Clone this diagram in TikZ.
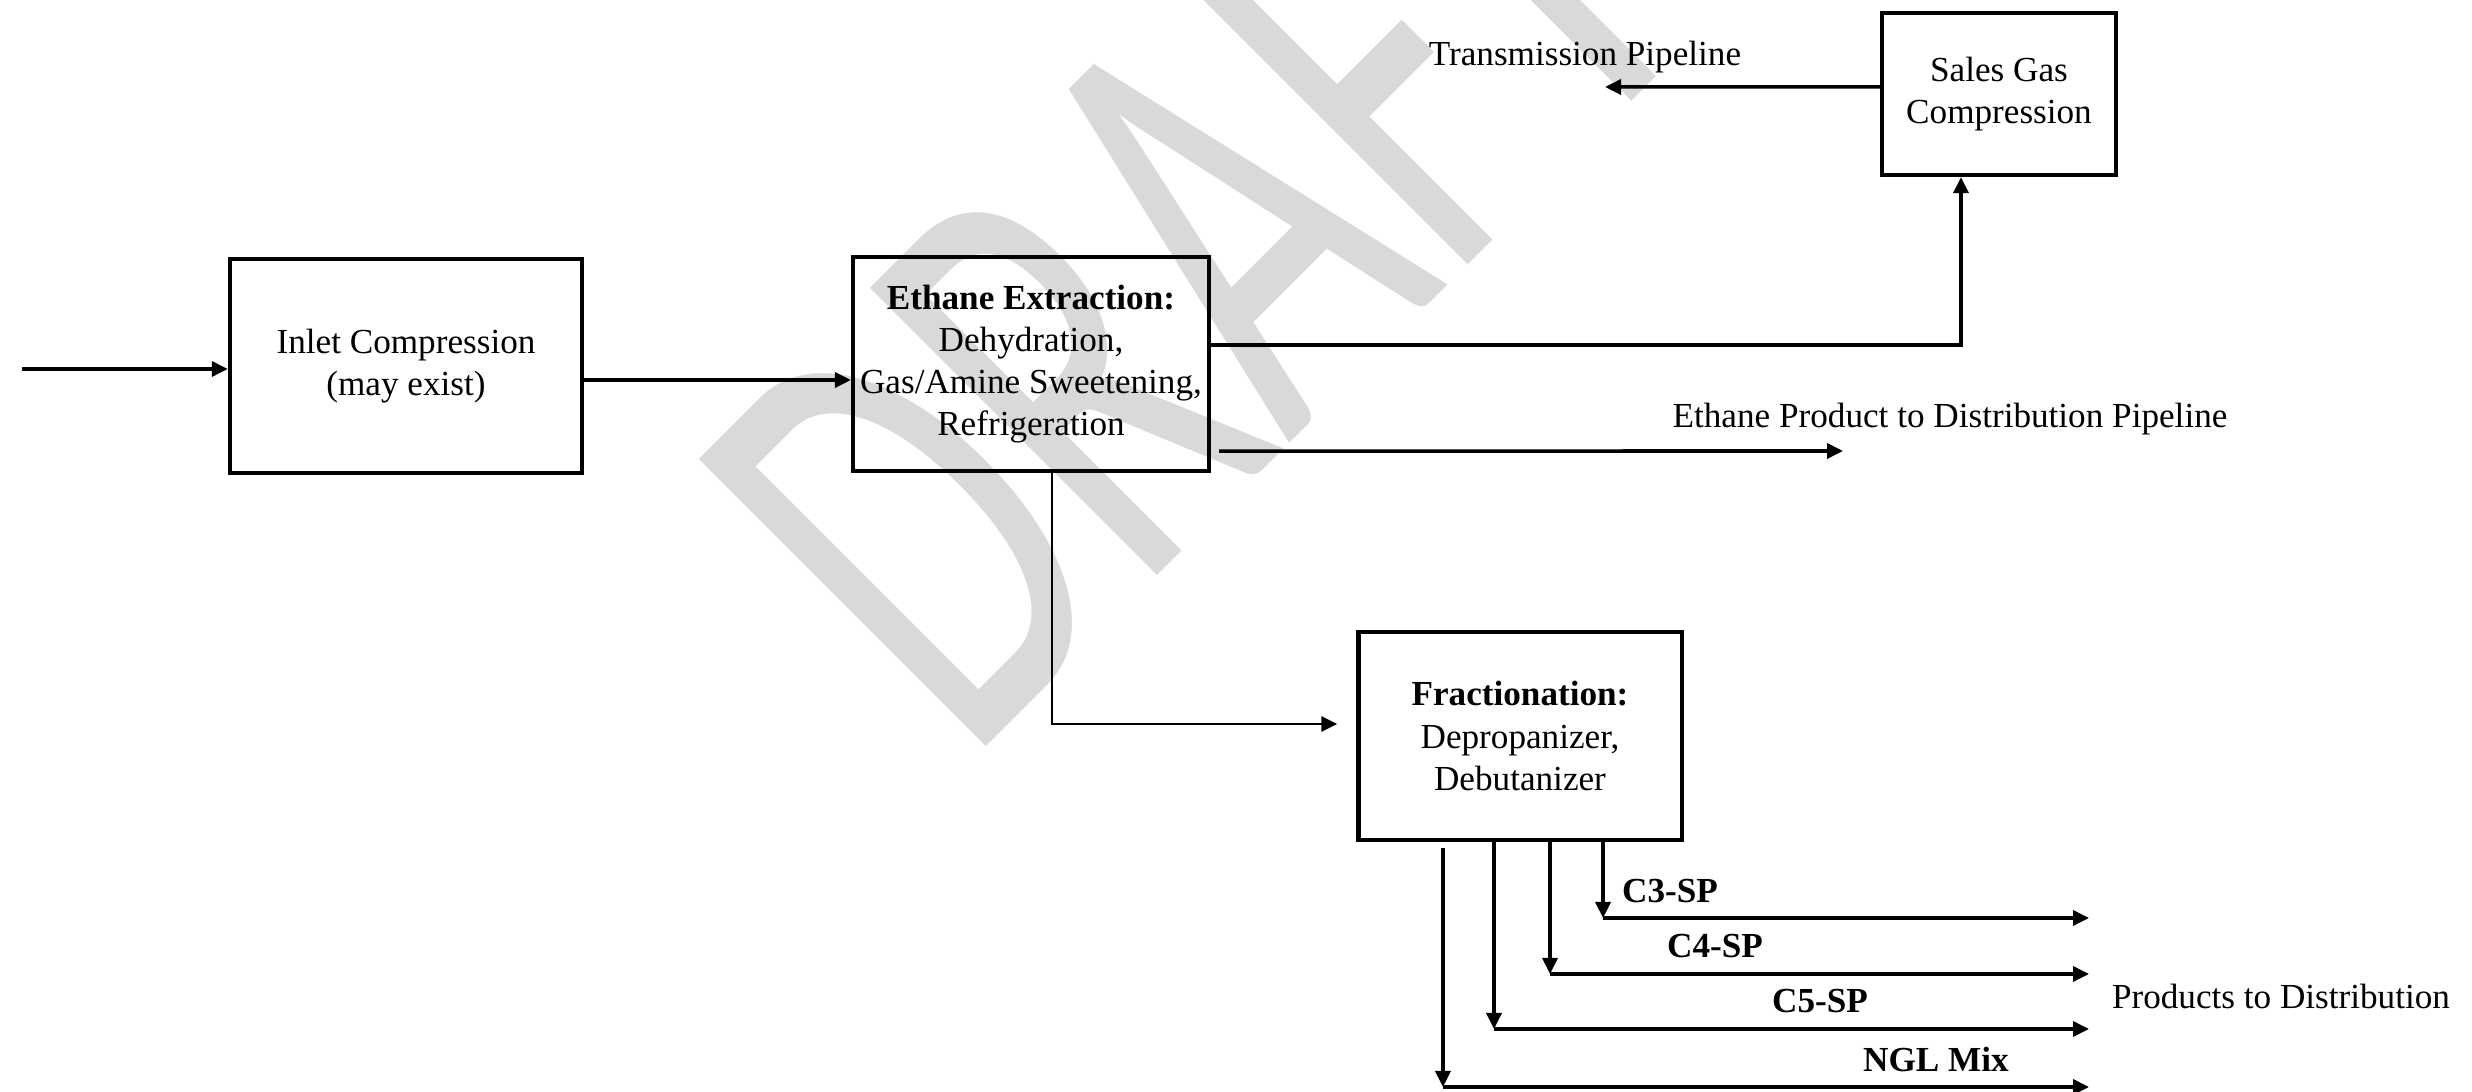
\documentclass[tikz,border=0pt]{standalone}
\usepackage{fontspec}
\setmainfont{Liberation Serif}
\newfontfamily\draftfont{Carlito}
\usetikzlibrary{arrows.meta, positioning, calc}
\definecolor{draftgrey}{RGB}{217,217,217}

\begin{document}
\begin{tikzpicture}[x=0.01cm, y=-0.01cm,
    block/.style={draw, line width=1.2pt, align=center, inner sep=2pt},
    flow/.style={line width=1pt, -{Triangle[length=1.6mm, width=1.5mm]}},
    tag/.style={font=\bfseries, inner sep=0pt},
    plain/.style={inner sep=0pt}]
    \useasboundingbox (0,0) rectangle (2472,1092);
    \clip (0,0) rectangle (2472,1092);

    % watermark
    \node[draftgrey, font=\draftfont\fontsize{180}{180}\selectfont, rotate=45, xscale=0.62, anchor=base west, inner sep=0pt] (draft) at (967,766) {DRAFT};

    \node[block, minimum width=3.52cm, minimum height=2.14cm] (inlet) at (406,366) {Inlet Compression\\(may exist)};
    \node[block, minimum width=3.50cm, minimum height=2.14cm] (ethane) at (1031,364) {\textbf{Ethane Extraction:}\\Dehydration,\\Gas/Amine Sweetening,\\Refrigeration};
    \node[block, minimum width=2.34cm, minimum height=1.62cm] (sales) at (1999,94) {Sales Gas\\Compression};
    \node[block, minimum width=3.23cm, minimum height=2.08cm] (frac) at (1520,736) {\textbf{Fractionation:}\\Depropanizer,\\Debutanizer};

    \coordinate (feed) at (22,369);
    \coordinate (pipeline) at (1605,87);
    \coordinate (ethprod) at (1843,451);
    \coordinate (c3end) at (2089,918);
    \coordinate (c4end) at (2089,974);
    \coordinate (c5end) at (2089,1029);
    \coordinate (nglend) at (2089,1087);
    \coordinate (c3top) at ([xshift=0.83cm]frac.south);
    \coordinate (c4top) at ([xshift=0.30cm]frac.south);
    \coordinate (c5top) at ([xshift=-0.26cm]frac.south);
    \coordinate (ngltop) at ([xshift=-0.77cm, yshift=-0.06cm]frac.south);

    \node[plain] (pipelbl) at (1585,57) {Transmission Pipeline};
    \node[plain] (ethlbl) at (1950,419) {Ethane Product to Distribution Pipeline};
    \node[plain] (distlbl) at (2281,996) {Products to Distribution};
    \node[tag] (c3lbl) at (1670,891) {C3-SP};
    \node[tag] (c4lbl) at (1715,946) {C4-SP};
    \node[tag] (c5lbl) at (1820,1001) {C5-SP};
    \node[tag] (ngllbl) at (1936,1059) {NGL Mix};

    \draw[flow] (feed) -- (feed -| inlet.west);
    \draw[flow] ([yshift=-0.14cm]inlet.east) -- ([yshift=-0.16cm]ethane.west);
    \draw[flow] ([yshift=0.19cm]ethane.east) -| ([xshift=-0.38cm]sales.south);
    \draw[flow] ([yshift=0.07cm]sales.west) -- (pipeline);
    \draw[flow] ([xshift=0.08cm, yshift=-0.87cm]ethane.east) -- (ethprod);
    \draw[flow, line width=0.8pt, shorten >=0.19cm] ([xshift=0.21cm]ethane.south) |- ([yshift=0.12cm]frac.west);

    % products
    \draw[flow] (c3top) -- (c3top |- c3end);
    \draw[flow] (c3top |- c3end) -- (c3end);
    \draw[flow] (c4top) -- (c4top |- c4end);
    \draw[flow] (c4top |- c4end) -- (c4end);
    \draw[flow] (c5top) -- (c5top |- c5end);
    \draw[flow] (c5top |- c5end) -- (c5end);
    \draw[flow] (ngltop) -- (ngltop |- nglend);
    \draw[flow] (ngltop |- nglend) -- (nglend);
\end{tikzpicture}
\end{document}
